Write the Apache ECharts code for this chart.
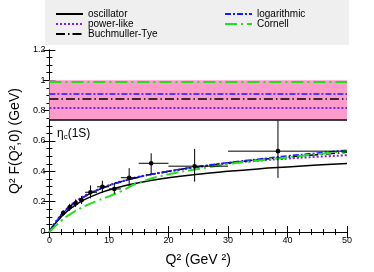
<!DOCTYPE html>
<html><head><meta charset="utf-8">
<script src="https://cdn.jsdelivr.net/npm/echarts@6/dist/echarts.min.js"></script>
<style>html,body{margin:0;padding:0;background:#fff}#c{width:374px;height:272px}</style>
</head><body><div id="c"></div>
<script>
// Q^2 grid for model curves
const qGrid = [0, 0.5, 1, 2, 3, 4, 5, 6, 8, 10, 12, 15, 20, 25, 30, 35, 40, 45, 50];
const oscillator = [0, 0.030, 0.057, 0.100, 0.138, 0.168, 0.193, 0.215, 0.250, 0.277, 0.298, 0.325, 0.357, 0.381, 0.400, 0.416, 0.429, 0.441, 0.452];
const powerLike = [0, 0.034, 0.064, 0.115, 0.156, 0.190, 0.217, 0.240, 0.278, 0.308, 0.333, 0.364, 0.398, 0.428, 0.452, 0.470, 0.484, 0.496, 0.506];
const buchmuller = [0, 0.033, 0.062, 0.112, 0.152, 0.186, 0.213, 0.236, 0.275, 0.306, 0.331, 0.362, 0.400, 0.430, 0.455, 0.476, 0.494, 0.510, 0.525];
const logarithmic = [0, 0.033, 0.062, 0.112, 0.152, 0.185, 0.212, 0.235, 0.274, 0.306, 0.330, 0.362, 0.401, 0.432, 0.458, 0.480, 0.502, 0.521, 0.540];
const cornell = [0, 0.020, 0.040, 0.075, 0.105, 0.130, 0.152, 0.172, 0.205, 0.235, 0.268, 0.325, 0.380, 0.415, 0.448, 0.470, 0.492, 0.513, 0.533];
// values at Q^2 = 0 (horizontal lines)
const zeroValues = {oscillator: 0.741, powerLike: 0.825, buchmuller: 0.880, logarithmic: 0.906, cornell: 0.995};
const bandLow = 0.741, bandHigh = 1.0;
// data points
const xPts = [2.3, 3.4, 4.4, 5.4, 6.9, 8.9, 10.9, 13.4, 17.1, 24.4, 38.4];
const yPts = [0.125, 0.163, 0.190, 0.210, 0.262, 0.298, 0.284, 0.358, 0.453, 0.434, 0.533];
const yLo = [0.105, 0.140, 0.165, 0.184, 0.222, 0.258, 0.252, 0.305, 0.385, 0.332, 0.357];
const yHi = [0.145, 0.186, 0.215, 0.237, 0.307, 0.338, 0.322, 0.421, 0.519, 0.548, 0.735];
const xLo = [2.0, 3.0, 4.0, 5.0, 6.0, 8.0, 10.0, 12.0, 15.0, 20.0, 30.0];
const xHi = [2.6, 3.8, 4.8, 5.8, 8.0, 10.0, 12.0, 15.0, 20.0, 30.0, 50.0];

const FONT = 'Liberation Sans';
const pair = arr => qGrid.map((q, i) => [q, arr[i]]);
function lineSeries(name, arr, color, width, type, zv, extra) {
  const s = {
    name, type: 'line', data: pair(arr), smooth: true, symbol: 'none',
    lineStyle: {color, width, type}, itemStyle: {color}, z: 5,
    markLine: {silent: true, symbol: 'none', label: {show: false},
      lineStyle: {color, width, type}, data: [{yAxis: zv}], animation: false}
  };
  return Object.assign(s, extra || {});
}
const chart = echarts.init(document.getElementById('c'));
const axLine = {show: true, lineStyle: {color: '#000', width: 1}};
const axTick = {show: true, inside: true, length: 6, lineStyle: {color: '#000'}};
const legendCommon = {orient: 'vertical', itemWidth: 27, itemHeight: 12, itemGap: 0, itemTextGap: 6,
  itemStyle: {opacity: 0, borderWidth: 0},
  textStyle: {fontSize: 10, fontFamily: FONT, color: '#000'}};
chart.setOption({
  animation: false,
  textStyle: {fontFamily: FONT},
  grid: {left: 45, right: 27, top: 50, bottom: 33},
  graphic: [
    {type: 'rect', left: 45, top: 0, shape: {width: 304, height: 45}, style: {fill: '#efefef'}, z: -1},
    {type: 'text', left: 57, top: 128, style: {
      text: '{a|η}{s|c}{a|(1S)}', rich: {
        a: {fontSize: 12, fontFamily: FONT, fill: '#000'},
        s: {fontSize: 8, fontFamily: FONT, fill: '#000', verticalAlign: 'bottom', padding: [6, 0, 0, 0]}
      }}, z: 10}
  ],
  legend: [
    Object.assign({left: 50, top: 4, data: ['oscillator', 'power-like', 'Buchmuller-Tye']}, legendCommon),
    Object.assign({left: 219, top: 4, data: ['logarithmic', 'Cornell']}, legendCommon)
  ],
  xAxis: [
    {type: 'value', min: 0, max: 50, interval: 10,
      name: 'Q² (GeV ²)', nameLocation: 'middle', nameGap: 21,
      nameTextStyle: {fontSize: 14, fontFamily: FONT, color: '#000'},
      axisLabel: {fontSize: 9, color: '#000', margin: 4, fontFamily: FONT},
      axisLine: axLine, axisTick: axTick,
      minorTick: {show: true, splitNumber: 5, length: 3, lineStyle: {color: '#000'}},
      splitLine: {show: false}},
    {type: 'value', position: 'top', min: 0, max: 50, interval: 10,
      axisLine: axLine, axisTick: axTick,
      minorTick: {show: true, splitNumber: 5, length: 3, lineStyle: {color: '#000'}},
      axisLabel: {show: false}, splitLine: {show: false}}
  ],
  yAxis: [
    {type: 'value', min: 0, max: 1.2, interval: 0.2,
      name: 'Q² F(Q²,0) (GeV)', nameLocation: 'middle', nameGap: 27,
      nameTextStyle: {fontSize: 14, fontFamily: FONT, color: '#000'},
      axisLabel: {fontSize: 9, color: '#000', margin: 4, fontFamily: FONT},
      axisLine: axLine, axisTick: axTick,
      minorTick: {show: true, splitNumber: 4, length: 3, lineStyle: {color: '#000'}},
      splitLine: {show: false}},
    {type: 'value', position: 'right', min: 0, max: 1.2, interval: 0.2,
      axisLine: axLine, axisTick: axTick,
      minorTick: {show: true, splitNumber: 4, length: 3, lineStyle: {color: '#000'}},
      axisLabel: {show: false}, splitLine: {show: false}}
  ],
  series: [
    lineSeries('oscillator', oscillator, '#000000', 1.5, 'solid', zeroValues.oscillator, {
      markArea: {silent: true, itemStyle: {color: '#fb9ccb', opacity: 1},
        data: [[{yAxis: bandLow}, {yAxis: bandHigh}]]}
    }),
    lineSeries('power-like', powerLike, '#7a1fe6', 2, [2, 2], zeroValues.powerLike),
    lineSeries('Buchmuller-Tye', buchmuller, '#000000', 1.5, [9, 3, 1.5, 3], zeroValues.buchmuller),
    lineSeries('logarithmic', logarithmic, '#1a1aff', 1.5, [6, 2, 2, 2], zeroValues.logarithmic),
    lineSeries('Cornell', cornell, '#22e01a', 2, [12, 4, 2, 4], zeroValues.cornell),
    {
      name: 'data', type: 'custom', z: 8,
      data: xPts.map((x, i) => [x, yPts[i], xLo[i], xHi[i], yLo[i], yHi[i]]),
      renderItem: function (params, api) {
        const c = api.coord([api.value(0), api.value(1)]);
        const l = api.coord([api.value(2), api.value(1)]);
        const r = api.coord([api.value(3), api.value(1)]);
        const b = api.coord([api.value(0), api.value(4)]);
        const t = api.coord([api.value(0), api.value(5)]);
        const st = {stroke: '#000', lineWidth: 1};
        return {type: 'group', children: [
          {type: 'line', shape: {x1: l[0], y1: l[1], x2: r[0], y2: r[1]}, style: st},
          {type: 'line', shape: {x1: b[0], y1: b[1], x2: t[0], y2: t[1]}, style: st},
          {type: 'circle', shape: {cx: c[0], cy: c[1], r: 2.3}, style: {fill: '#000'}}
        ]};
      }
    }
  ]
});
</script></body></html>
